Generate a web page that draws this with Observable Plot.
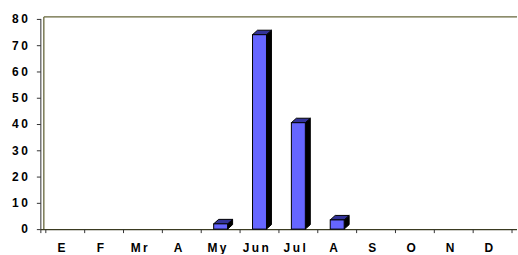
<!DOCTYPE html>
<html><head><meta charset="utf-8">
<script src="https://cdn.jsdelivr.net/npm/d3@7"></script>
<script src="https://cdn.jsdelivr.net/npm/@observablehq/plot@0.6"></script>
<style>
html,body{margin:0;padding:0;background:#fff;overflow:hidden;width:518px;height:255px}
#chart text{letter-spacing:2.5px}
</style></head>
<body><div id="chart"></div>
<script>
const monthKeys = ["Ene","Feb","Mar","Abr","May","Jun","Jul","Ago","Sep","Oct","Nov","Dic"];
const monthLabels = ["E","F","Mr","A","My","Jun","Jul","A","S","O","N","D"];
const counts = [0,0,0,0,2,74,40.5,3.5,0,0,0,0];
const yTicks = [0,10,20,30,40,50,60,70,80];

const rows = monthKeys.map((k,i)=>({key:k, value:counts[i]}));
const olive = "#66663a";

function bars3d(){
  return Plot.barY(rows, {x:"key", y:"value", render:(index, scales, values, dims)=>{
    const g = d3.create("svg:g");
    const bw = scales.scales.x.bandwidth;
    const w = 14, dx = 5, dy = 4.5;
    for (const i of index){
      const r = rows[i];
      if (!(r.value > 0)) continue;
      const cx = scales.x(r.key) + bw/2;
      const xl = cx - w/2, xr = cx + w/2;
      const y0 = scales.y(0), yt = scales.y(r.value);
      g.append("polygon").attr("points", [[xr,yt],[xr+dx,yt-dy],[xr+dx,y0-dy],[xr,y0]].join(" "))
        .attr("fill","#000").attr("stroke","#000");
      g.append("polygon").attr("points", [[xl,yt],[xl+dx,yt-dy],[xr+dx,yt-dy],[xr,yt]].join(" "))
        .attr("fill","#333399").attr("stroke","#000");
      g.append("rect").attr("x",xl).attr("y",yt).attr("width",w).attr("height",y0-yt)
        .attr("fill","#6666ff").attr("stroke","#000");
    }
    return g.node();
  }});
}

function decorations(){
  return Plot.ruleX(monthKeys, {x:d=>d, render:(index, scales, values, dims)=>{
    const g = d3.create("svg:g");
    const bw = scales.scales.x.bandwidth;
    const L = dims.marginLeft, R = dims.width - dims.marginRight;
    const y0 = scales.y(0), yTop = scales.y(80);
    g.append("line").attr("x1",L+3).attr("x2",R).attr("y1",yTop-2).attr("y2",yTop-2).attr("stroke",olive).attr("stroke-width",1.3);
    g.append("line").attr("x1",L+3).attr("x2",L+3).attr("y1",yTop-2).attr("y2",y0).attr("stroke",olive).attr("stroke-width",1.3);
    g.append("line").attr("x1",L).attr("x2",L).attr("y1",yTop).attr("y2",y0+4).attr("stroke","#333");
    g.append("line").attr("x1",L).attr("x2",R).attr("y1",y0+0.5).attr("y2",y0+0.5).attr("stroke","#3a3a20").attr("stroke-width",1.3);
    const xs = monthKeys.map(k=>scales.x(k)); xs.push(xs[xs.length-1]+bw);
    for (const x of xs) g.append("line").attr("x1",x).attr("x2",x).attr("y1",y0).attr("y2",y0+4).attr("stroke","#333");
    return g.node();
  }});
}

const chart = Plot.plot({
  width: 520, height: 255,
  marginLeft: 41, marginRight: 1, marginTop: 19, marginBottom: 25,
  style:{fontFamily:"'Liberation Sans', Arial, sans-serif", fontSize:"12px", fontWeight:"bold", color:"#000", background:"#fff"},
  x:{type:"band", domain: monthKeys, padding:0, label:null},
  y:{domain:[0,80], label:null},
  marks:[
    decorations(),
    Plot.axisY({ticks: yTicks, tickSize:4, tickPadding:7, stroke:"#333", label:null}),
    Plot.axisX({tickSize:0, tickPadding:14, dx:-3, label:null, tickFormat:d=>monthLabels[monthKeys.indexOf(d)]}),
    bars3d()
  ]
});
document.getElementById("chart").appendChild(chart);
</script>
</body></html>
